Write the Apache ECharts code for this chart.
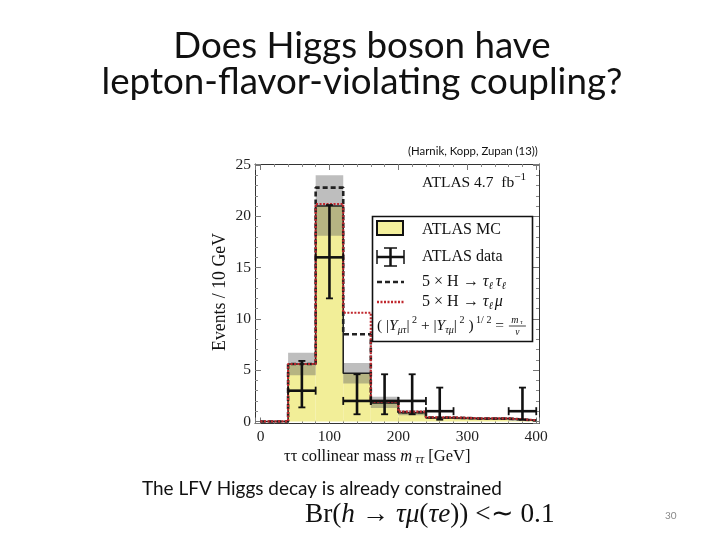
<!DOCTYPE html>
<html><head><meta charset="utf-8">
<script src="https://cdn.jsdelivr.net/npm/echarts@6/dist/echarts.min.js"></script>
<style>html,body{margin:0;padding:0;background:#fff;}#c{width:720px;height:540px;}</style>
</head><body><div id="c"></div>
<script>
// ---- data ----
const binEdges   = [0,40,80,120,160,200,240,280,320,360,400];
const mcValues   = [0,5.6,21.0,4.7,1.8,0.85,0.35,0.28,0.28,0.1];
const mcBandLow  = [0,4.5,18.1,3.7,1.3,0.6,0.25,0.2,0.2,0.05];
const mcBandHigh = [0,6.7,24.0,5.7,2.4,1.1,0.45,0.36,0.36,0.15];
const sigTauTau  = [0,5.6,22.8,8.5,1.9,0.9,0.37,0.28,0.28,0.1];
const sigTauMu   = [0,5.6,21.2,10.6,1.9,0.95,0.4,0.3,0.3,0.12];
const dataX      = [60,100,140,180,220,260,380];
const dataY      = [3,16,2,2,2,1,1];
const dataLow    = [1.37,12.0,0.7,0.7,0.7,0.17,0.17];
const dataHigh   = [5.9,21.1,4.6,4.6,4.6,3.3,3.3];
const dataHalfW  = [20,20,20,20,20,20,20];
const xTickLabels = [0,100,200,300,400];
const yTickLabels = [0,5,10,15,20,25];

// ---- styling helpers ----
const SERIF = '"Liberation Serif"';
const SANS = 'Lato';
const cv = document.createElement('canvas').getContext('2d');
function fstr(p){ return (p.it?'italic ':'') + p.size + 'px ' + (p.fam||SERIF); }
function tw(p){ cv.font = fstr(p); return cv.measureText(p.t).width; }
function fit(text, fam, target, it){ cv.font=(it?'italic ':'')+'100px '+fam; return 100*target/cv.measureText(text).width; }
function txt(x,y,t,size,fam,opt){ opt=opt||{}; return {type:'text', x:x, y:y, z:opt.z||100, rotation:opt.rot||0,
  style:{text:t, fontSize:size, fontFamily:fam, fontStyle:opt.it?'italic':'normal', fill:opt.fill||'#111',
  align:opt.align||'left', verticalAlign:'middle'}}; }
function seq(x,y,parts,z){ const els=[]; let cx=x; for(const p of parts){ const w=tw(p);
  els.push(txt(cx, y+(p.dy||0), p.t, p.size, p.fam||SERIF, {it:p.it, z:z||100, fill:p.fill})); cx+=w+(p.gap||0);} return {els:els,end:cx}; }
function scaleParts(parts, target){ let w=0; parts.forEach(p=>w+=tw(p)+(p.gap||0)); const k=target/w; parts.forEach(p=>{p.size*=k; if(p.dy) p.dy*=k;}); return parts; }

function stepData(vals){ const d=[]; for(let i=0;i<vals.length;i++) d.push([binEdges[i], vals[i]]); d.push([binEdges[binEdges.length-1], vals[vals.length-1]]); return d; }
function binData(a,b){ const d=[]; for(let i=0;i<a.length;i++) d.push([binEdges[i], binEdges[i+1], a[i], b[i]]); return d; }

const chart = echarts.init(document.getElementById('c'), null, {renderer:'canvas'});

const axisCommon = {
  type:'value', splitLine:{show:false},
  axisLine:{show:true, onZero:false, lineStyle:{color:'#333', width:1}},
  axisTick:{show:true, inside:true, length:6, lineStyle:{color:'#777'}},
  minorTick:{show:true, splitNumber:5, length:3, lineStyle:{color:'#888'}},
};
const xLabelFmt = v => xTickLabels.indexOf(Math.round(v*1000)/1000) >= 0 ? String(v) : '';
const yLabelFmt = v => yTickLabels.indexOf(Math.round(v*1000)/1000) >= 0 ? String(v) : '';

// ---- graphics: titles, legend, annotations ----
const G = [];
const tSize = fit('lepton-flavor-violating coupling?', SANS, 521);
G.push(txt(362, 46, 'Does Higgs boson have', tSize, SANS, {align:'center'}));
G.push(txt(362, 82, 'lepton-flavor-violating coupling?', tSize, SANS, {align:'center'}));
G.push(txt(408, 151, '(Harnik, Kopp, Zupan (13))', fit('(Harnik, Kopp, Zupan (13))', SANS, 130), SANS));
const bSize = fit('The LFV Higgs decay is already constrained', SANS, 360);
G.push(txt(142, 489, 'The LFV Higgs decay is already constrained', bSize, SANS));
G.push(txt(665, 516, '30', 10, SANS, {fill:'#888'}));

// Br formula
(function(){
  const s=21;
  const parts=scaleParts([{t:'Br(',size:s},{t:'h',size:s,it:true},{t:' \u2192 ',size:s},{t:'\u03C4\u03BC',size:s,it:true},{t:'(',size:s},
    {t:'\u03C4e',size:s,it:true},{t:')) <\u223C 0.1',size:s}], 250);
  seq(305, 515, parts).els.forEach(e=>G.push(e));
})();

// axis titles
G.push(txt(220, 292, 'Events / 10 GeV', fit('Events / 10 GeV', SERIF, 118), SERIF, {align:'center', rot:Math.PI/2}));
(function(){
  const s=16.5;
  const parts=[{t:'\u03C4\u03C4 collinear mass ',size:s},{t:'m',size:s,it:true},{t:' \u03C4\u03C4',size:s*0.75,it:true,dy:3},{t:' [GeV]',size:s}];
  seq(284, 457, parts).els.forEach(e=>G.push(e));
})();

// ATLAS label
(function(){
  const s=15.5;
  seq(422, 183, [{t:'ATLAS 4.7  fb',size:s},{t:'\u22121',size:s*0.72,dy:-6}]).els.forEach(e=>G.push(e));
})();

// legend box
G.push({type:'rect', z:99, shape:{x:372.5, y:216.5, width:160, height:125}, style:{fill:'#fff', stroke:'#111', lineWidth:1.6}});
G.push({type:'rect', z:100, shape:{x:377, y:221, width:26, height:14}, style:{fill:'#f3ef9c', stroke:'#111', lineWidth:2}});
G.push({type:'line', z:100, shape:{x1:377,y1:257,x2:404,y2:257}, style:{stroke:'#111', lineWidth:2.5}});
G.push({type:'line', z:100, shape:{x1:390.5,y1:248,x2:390.5,y2:266}, style:{stroke:'#111', lineWidth:2.5}});
G.push({type:'line', z:100, shape:{x1:377,y1:250,x2:377,y2:264}, style:{stroke:'#111', lineWidth:1.5}});
G.push({type:'line', z:100, shape:{x1:404,y1:250,x2:404,y2:264}, style:{stroke:'#111', lineWidth:1.5}});
G.push({type:'line', z:100, shape:{x1:384,y1:248,x2:397,y2:248}, style:{stroke:'#111', lineWidth:1.5}});
G.push({type:'line', z:100, shape:{x1:384,y1:266,x2:397,y2:266}, style:{stroke:'#111', lineWidth:1.5}});
G.push({type:'line', z:100, shape:{x1:377,y1:282,x2:404,y2:282}, style:{stroke:'#222', lineWidth:2.5, lineDash:[5,3]}});
G.push({type:'line', z:100, shape:{x1:377,y1:302,x2:404,y2:302}, style:{stroke:'#c0272d', lineWidth:2.5, lineDash:[2,1.5]}});
const lgS = fit('ATLAS MC', SERIF, 79);
G.push(txt(422, 230, 'ATLAS MC', lgS, SERIF));
G.push(txt(422, 257, 'ATLAS data', lgS, SERIF));
seq(422, 282, [{t:'5 \u00D7 H \u2192 ',size:lgS},{t:'\u03C4',size:lgS,it:true},{t:'\u2113',size:lgS*0.65,it:true,dy:4,gap:3},{t:'\u03C4',size:lgS,it:true},{t:'\u2113',size:lgS*0.65,it:true,dy:4}]).els.forEach(e=>G.push(e));
seq(422, 302, [{t:'5 \u00D7 H \u2192 ',size:lgS},{t:'\u03C4',size:lgS,it:true},{t:'\u2113',size:lgS*0.65,it:true,dy:4,gap:2},{t:'\u03BC',size:lgS,it:true}]).els.forEach(e=>G.push(e));
(function(){
  const s=11.5, ss=7.5;
  const parts=scaleParts([{t:'( |',size:s},{t:'Y',size:s,it:true},{t:'\u03BC\u03C4',size:ss,it:true,dy:3},{t:'|',size:s},{t:' 2',size:ss,dy:-4},
    {t:' + |',size:s},{t:'Y',size:s,it:true},{t:'\u03C4\u03BC',size:ss,it:true,dy:3},{t:'|',size:s},{t:' 2',size:ss,dy:-4},
    {t:' )',size:s},{t:' 1/ 2',size:ss,dy:-4},{t:' = ',size:s}], 131);
  const r=seq(377, 326, parts); r.els.forEach(e=>G.push(e));
  const fx=r.end+1;
  G.push(txt(fx+6, 320, 'm', 10, SERIF, {it:true, align:'center'}));
  G.push(txt(fx+12.5, 322.5, '\u03C4', 6.5, SERIF, {it:true, align:'center'}));
  G.push({type:'line', z:100, shape:{x1:fx,y1:326,x2:fx+17,y2:326}, style:{stroke:'#111', lineWidth:0.8}});
  G.push(txt(fx+8.5, 332.5, 'v', 9.5, SERIF, {it:true, align:'center'}));
})();

// ---- series ----
function rectItem(params, api, fill){
  const p0 = api.coord([api.value(0), api.value(2)]);
  const p1 = api.coord([api.value(1), api.value(3)]);
  return {type:'rect', shape:{x:p0[0], y:Math.min(p0[1],p1[1]), width:p1[0]-p0[0], height:Math.abs(p0[1]-p1[1])}, style:{fill:fill}};
}
const zeros = mcValues.map(()=>0);
const errData = dataX.map((x,i)=>[x, dataY[i], dataLow[i], dataHigh[i], dataHalfW[i]]);

const option = {
  animation:false,
  backgroundColor:'#fff',
  grid:{left:255, top:164, width:284, height:259.5, containLabel:false},
  xAxis:[
    Object.assign({}, axisCommon, {position:'bottom', min:-8, max:404,
      axisLabel:{show:true, formatter:xLabelFmt, color:'#222', fontFamily:SERIF, fontSize:15.5, margin:5, showMinLabel:true, showMaxLabel:true}}),
    Object.assign({}, axisCommon, {position:'top', min:-8, max:404, axisLabel:{show:false}})
  ],
  yAxis:[
    Object.assign({}, axisCommon, {position:'left', min:-0.2, max:25.1,
      axisLabel:{show:true, formatter:yLabelFmt, color:'#222', fontFamily:SERIF, fontSize:15.5, margin:4}}),
    Object.assign({}, axisCommon, {position:'right', min:-0.2, max:25.1, axisLabel:{show:false}})
  ],
  graphic:G,
  series:[
    {type:'custom', name:'ATLAS MC', z:1, renderItem:(p,a)=>rectItem(p,a,'#f2ee98'), data:binData(zeros, mcValues), clip:true},
    {type:'custom', name:'MC uncertainty', z:2, renderItem:(p,a)=>rectItem(p,a,'rgba(100,100,100,0.42)'), data:binData(mcBandLow, mcBandHigh), clip:true},
    {type:'line', name:'MC outline', z:3, step:'end', symbol:'none', data:stepData(mcValues), lineStyle:{color:'#222', width:1.6}},
    {type:'line', name:'5 x H -> tau tau', z:4, step:'end', symbol:'none', data:stepData(sigTauTau), lineStyle:{color:'#222', width:2.6, type:[5,3]}},
    {type:'line', name:'5 x H -> tau mu', z:5, step:'end', symbol:'none', data:stepData(sigTauMu), lineStyle:{color:'#c0272d', width:2.2, type:[2,1.5]}},
    {type:'custom', name:'ATLAS data', z:6, data:errData, renderItem:function(params, api){
      const x=api.value(0), y=api.value(1), lo=api.value(2), hi=api.value(3), hw=api.value(4);
      const c=api.coord([x,y]), cl=api.coord([x-hw,y]), cr=api.coord([x+hw,y]), cb=api.coord([x,lo]), ct=api.coord([x,hi]);
      const st={stroke:'#111', lineWidth:2.6}; const sc={stroke:'#111', lineWidth:1.8};
      return {type:'group', children:[
        {type:'line', shape:{x1:cl[0],y1:c[1],x2:cr[0],y2:c[1]}, style:st},
        {type:'line', shape:{x1:c[0],y1:cb[1],x2:c[0],y2:ct[1]}, style:st},
        {type:'line', shape:{x1:cl[0],y1:c[1]-4,x2:cl[0],y2:c[1]+4}, style:sc},
        {type:'line', shape:{x1:cr[0],y1:c[1]-4,x2:cr[0],y2:c[1]+4}, style:sc},
        {type:'line', shape:{x1:c[0]-3.5,y1:cb[1],x2:c[0]+3.5,y2:cb[1]}, style:sc},
        {type:'line', shape:{x1:c[0]-3.5,y1:ct[1],x2:c[0]+3.5,y2:ct[1]}, style:sc}
      ]};
    }}
  ]
};
chart.setOption(option);
</script></body></html>
